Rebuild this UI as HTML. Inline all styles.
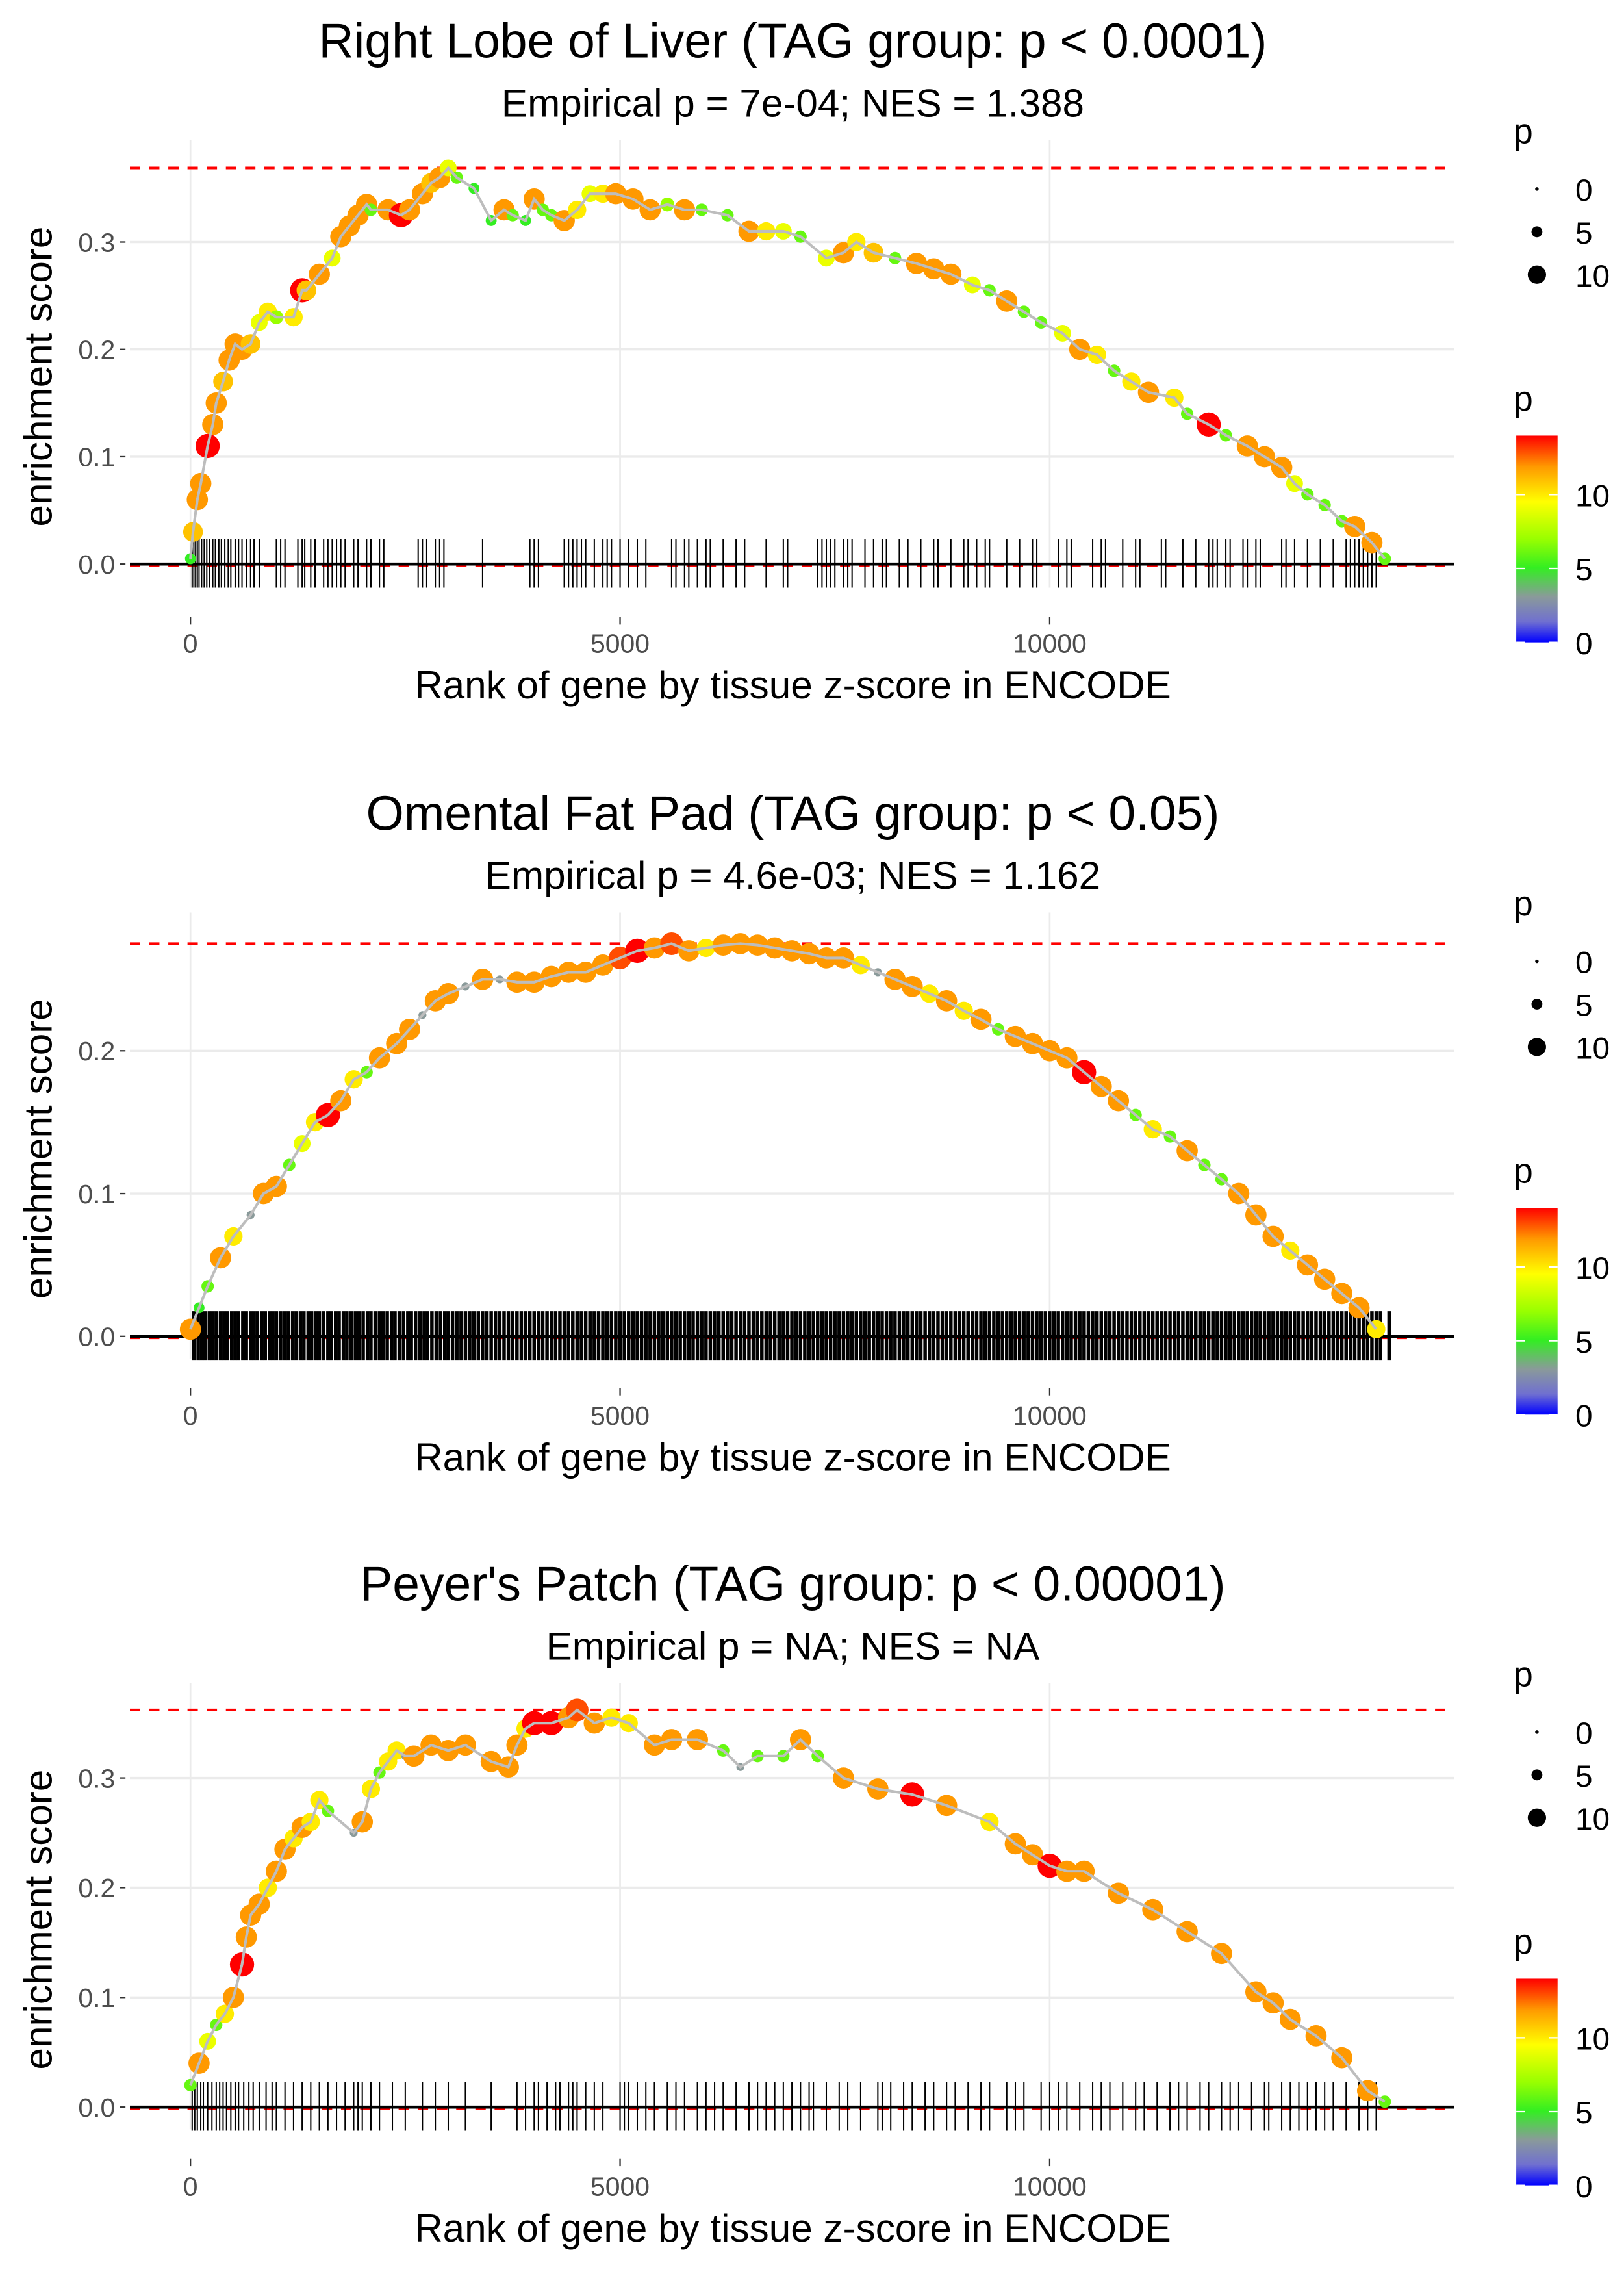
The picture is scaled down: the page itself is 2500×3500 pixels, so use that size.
<!DOCTYPE html>
<html><head><meta charset="utf-8"><style>
html,body{margin:0;padding:0;background:#fff}
svg{display:block}
text{font-family:"Liberation Sans",sans-serif}
</style></head><body>
<svg id="chart" width="2500" height="3500" viewBox="0 0 1100 1540" xmlns="http://www.w3.org/2000/svg">
<defs>
<linearGradient id="pgrad" x1="0" y1="1" x2="0" y2="0">
<stop offset="0" stop-color="#0000ff"/><stop offset="0.1" stop-color="#7070d0"/><stop offset="0.22" stop-color="#8a9a9a"/><stop offset="0.36" stop-color="#33ee22"/><stop offset="0.5" stop-color="#99ff00"/><stop offset="0.68" stop-color="#ffff00"/><stop offset="0.85" stop-color="#ff9900"/><stop offset="1" stop-color="#ff0000"/>
</linearGradient>
</defs>
</svg>
<script>
// Panel 1 data
const p1Titles=["Right Lobe of Liver (TAG group: p < 0.0001)","Empirical p = 7e-04; NES = 1.388"];
const p1Rank=[0,30,80,120,200,260,300,380,450,520,600,700,800,900,1000,1200,1300,1350,1500,1650,1750,1850,1950,2050,2100,2300,2450,2550,2700,2800,2900,3000,3100,3300,3500,3650,3750,3900,4000,4100,4200,4350,4500,4650,4800,4950,5150,5350,5550,5750,5950,6250,6500,6700,6900,7100,7400,7600,7750,7950,8200,8450,8650,8850,9100,9300,9500,9700,9900,10150,10350,10550,10750,10950,11150,11450,11600,11850,12050,12300,12500,12700,12850,13000,13200,13400,13550,13750,13900];
const p1ES=[0.005,0.03,0.06,0.075,0.11,0.13,0.15,0.17,0.19,0.205,0.2,0.205,0.225,0.235,0.23,0.23,0.255,0.255,0.27,0.285,0.305,0.315,0.325,0.335,0.33,0.33,0.325,0.33,0.345,0.355,0.36,0.369,0.36,0.35,0.32,0.33,0.325,0.32,0.34,0.33,0.325,0.32,0.33,0.345,0.345,0.345,0.34,0.33,0.335,0.33,0.33,0.325,0.31,0.31,0.31,0.305,0.285,0.29,0.3,0.29,0.285,0.28,0.275,0.27,0.26,0.255,0.245,0.235,0.225,0.215,0.2,0.195,0.18,0.17,0.16,0.155,0.14,0.13,0.12,0.11,0.1,0.09,0.075,0.065,0.055,0.04,0.035,0.02,0.005];
const p1P=[5,11,12,12,14,12,12,11,12,12,12,11,9,10,7,10,14,11,12,9,12,12,12,12,6,12,14,12,12,11,12,9,6,5,5,12,6,5,12,6,6,12,10,9,10,12,12,12,7,12,6,6,12,10,9,6,9,12,10,11,6,12,12,12,9,6,12,6,6,9,12,10,6,10,12,10,6,14,6,12,12,12,9,6,6,6,12,12,6];
const p1Rug=[20,40,60,80,100,130,160,190,220,260,290,330,360,400,440,470,520,560,600,650,700,740,800,1000,1050,1100,1250,1300,1330,1400,1450,1550,1600,1650,1700,1750,1800,1900,1950,2050,2100,2200,2250,2650,2700,2750,2850,2900,2950,3400,3950,4000,4050,4350,4400,4450,4500,4550,4600,4700,4800,4850,4900,5000,5100,5200,5300,5600,5650,5750,5800,5900,6000,6050,6200,6350,6450,6700,6900,6950,7300,7350,7400,7450,7500,7600,7650,7700,7850,7950,8050,8100,8250,8350,8500,8650,8700,8850,9000,9050,9150,9250,9300,9500,9650,9800,9850,10100,10200,10250,10500,10600,10650,10850,11000,11050,11300,11350,11550,11700,11850,11900,11950,12050,12100,12250,12300,12400,12450,12700,12750,12850,13000,13150,13300,13450,13500,13550,13600,13650,13700,13750,13800];

// Panel 2 data
const p2Titles=["Omental Fat Pad (TAG group: p < 0.05)","Empirical p = 4.6e-03; NES = 1.162"];
const p2Rank=[0,100,200,350,500,700,850,1000,1150,1300,1450,1600,1750,1900,2050,2200,2400,2550,2700,2850,3000,3200,3400,3600,3800,4000,4200,4400,4600,4800,5000,5200,5400,5600,5800,6000,6200,6400,6600,6800,7000,7200,7400,7600,7800,8000,8200,8400,8600,8800,9000,9200,9400,9600,9800,10000,10200,10400,10600,10800,11000,11200,11400,11600,11800,12000,12200,12400,12600,12800,13000,13200,13400,13600,13800];
const p2ES=[0.005,0.02,0.035,0.055,0.07,0.085,0.1,0.105,0.12,0.135,0.15,0.155,0.165,0.18,0.185,0.195,0.205,0.215,0.225,0.235,0.24,0.245,0.25,0.25,0.248,0.248,0.252,0.255,0.255,0.26,0.265,0.27,0.272,0.275,0.27,0.272,0.274,0.275,0.274,0.272,0.27,0.268,0.265,0.265,0.26,0.255,0.25,0.245,0.24,0.235,0.228,0.222,0.215,0.21,0.205,0.2,0.195,0.185,0.175,0.165,0.155,0.145,0.14,0.13,0.12,0.11,0.1,0.085,0.07,0.06,0.05,0.04,0.03,0.02,0.005];
const p2P=[12,5,6,12,10,3,12,12,6,9,10,14,12,10,6,12,12,12,3,12,12,3,12,3,12,12,12,12,12,12,13,14,12,13,12,10,12,12,12,12,12,12,12,12,10,3,12,12,10,12,10,12,6,12,12,12,12,14,12,12,6,10,6,12,6,6,12,12,12,10,12,12,12,12,10];
const p2Rug=[40,90,130,170,220,260,300,350,390,430,480,520,560,610,650,700,740,780,830,870,920,960,1000,1050,1100,1140,1190,1230,1280,1320,1370,1410,1460,1500,1550,1600,1640,1690,1730,1780,1820,1870,1920,1960,2010,2060,2100,2150,2200,2240,2290,2340,2380,2430,2480,2530,2570,2620,2670,2720,2760,2810,2860,2910,2960,3000,3050,3100,3150,3200,3250,3300,3350,3400,3450,3500,3550,3600,3650,3700,3750,3800,3850,3900,3950,4000,4050,4100,4150,4200,4250,4300,4350,4400,4450,4500,4550,4600,4650,4700,4750,4800,4850,4900,4950,5000,5050,5100,5150,5200,5250,5300,5350,5400,5450,5500,5550,5600,5650,5700,5750,5800,5850,5900,5950,6000,6050,6100,6150,6200,6250,6300,6350,6400,6450,6500,6550,6600,6650,6700,6750,6800,6850,6900,6950,7000,7050,7100,7150,7200,7250,7300,7350,7400,7450,7500,7550,7600,7650,7700,7750,7800,7850,7900,7950,8000,8050,8100,8150,8200,8250,8300,8350,8400,8450,8500,8550,8600,8650,8700,8750,8800,8850,8900,8950,9000,9050,9100,9150,9200,9250,9300,9350,9400,9450,9500,9550,9600,9650,9700,9750,9800,9850,9900,9950,10000,10050,10100,10150,10200,10250,10300,10350,10400,10450,10500,10550,10600,10650,10700,10750,10800,10850,10900,10950,11000,11050,11100,11150,11200,11250,11300,11350,11400,11450,11500,11550,11600,11650,11700,11750,11800,11850,11900,11950,12000,12050,12100,12150,12200,12250,12300,12350,12400,12450,12500,12550,12600,12650,12700,12750,12800,12850,12900,12950,13000,13050,13100,13150,13200,13250,13300,13350,13400,13450,13500,13550,13600,13650,13700,13750,13800,13850,13950];

// Panel 3 data
const p3Titles=["Peyer's Patch (TAG group: p < 0.00001)","Empirical p = NA; NES = NA"];
const p3Rank=[0,100,200,300,400,500,600,650,700,800,900,1000,1100,1200,1300,1400,1500,1600,1900,2000,2100,2200,2300,2400,2500,2600,2800,3000,3200,3500,3700,3800,3900,4000,4200,4400,4500,4700,4900,5100,5400,5600,5900,6200,6400,6600,6900,7100,7300,7600,8000,8400,8800,9300,9600,9800,10000,10200,10400,10800,11200,11600,12000,12400,12600,12800,13100,13400,13700,13900];
const p3ES=[0.02,0.04,0.06,0.075,0.085,0.1,0.13,0.155,0.175,0.185,0.2,0.215,0.235,0.245,0.255,0.26,0.28,0.27,0.25,0.26,0.29,0.305,0.315,0.325,0.32,0.32,0.33,0.325,0.33,0.315,0.31,0.33,0.345,0.35,0.35,0.355,0.362,0.35,0.355,0.35,0.33,0.335,0.335,0.325,0.31,0.32,0.32,0.335,0.32,0.3,0.29,0.285,0.275,0.26,0.24,0.23,0.22,0.215,0.215,0.195,0.18,0.16,0.14,0.105,0.095,0.08,0.065,0.045,0.015,0.005];
const p3P=[6,12,9,6,10,12,14,12,12,12,10,12,12,10,12,10,10,6,3,12,10,6,10,10,3,12,12,12,12,12,12,12,10,14,14,12,13,12,10,10,12,12,12,6,3,6,6,12,6,12,12,14,12,10,12,12,14,12,12,12,12,12,12,12,12,12,12,12,12,6];
const p3Rug=[20,50,80,120,150,200,250,300,340,380,420,470,520,560,620,680,730,800,880,950,1000,1100,1200,1300,1400,1500,1600,1700,1800,1900,1950,2000,2100,2200,2350,2500,2700,2850,3000,3200,3500,3800,3900,4000,4050,4150,4250,4300,4400,4450,4500,4600,4700,4800,5000,5050,5100,5200,5300,5400,5550,5650,5750,5900,6000,6100,6200,6350,6500,6600,6700,6800,6900,7000,7100,7200,7250,7400,7550,7650,7800,8000,8050,8150,8300,8400,8550,8650,8800,8900,9050,9200,9300,9500,9600,9700,9900,10000,10100,10200,10350,10500,10600,10700,10850,11000,11100,11250,11400,11500,11600,11750,11850,12000,12100,12200,12350,12500,12550,12700,12800,12900,13000,13100,13200,13300,13450,13600,13700,13800];

const yTicks=[0,0.1,0.2,0.3];
const yTickLabels=["0.0","0.1","0.2","0.3"];
const xTicks=[0,5000,10000];
const xTickLabels=["0","5000","10000"];
const legendSizes=[0,5,10];
const legendColorTicks=[0,5,10];

const NS="http://www.w3.org/2000/svg";
const svg=document.getElementById('chart');
function mk(tag,attrs,parent){const e=document.createElementNS(NS,tag);for(const k in attrs)e.setAttribute(k,attrs[k]);(parent||svg).appendChild(e);return e;}
function colorOf(p){
  const st=[[0,[0,0,255]],[1.4,[112,112,208]],[3,[138,154,154]],[5,[51,238,34]],[7,[153,255,0]],[9.5,[255,255,0]],[12,[255,153,0]],[14,[255,0,0]]];
  if(p<=0)return 'rgb(0,0,255)';
  for(let i=1;i<st.length;i++){if(p<=st[i][0]){const t=(p-st[i-1][0])/(st[i][0]-st[i-1][0]);const c=st[i-1][1].map((v,j)=>Math.round(v+(st[i][1][j]-v)*t));return 'rgb('+c+')';}}
  return 'rgb(255,0,0)';
}
function rad(p){return 1.2+p*0.5;}

const panels=[
 {titles:p1Titles,rank:p1Rank,es:p1ES,p:p1P,rug:p1Rug,y0:382,pxPer:727,top:95,bot:398,off:0},
 {titles:p2Titles,rank:p2Rank,es:p2ES,p:p2P,rug:p2Rug,y0:905,pxPer:967,top:618,bot:920,off:523},
 {titles:p3Titles,rank:p3Rank,es:p3ES,p:p3P,rug:p3Rug,y0:1427,pxPer:743,top:1140,bot:1442,off:1045}
];
const X0=129,XS=(711-129)/10000,L=88,R=985;
function xs(v){return X0+v*XS;}

panels.forEach((P,i)=>{
  const g=mk('g',{});
  
  
  const ys=v=>P.y0-v*P.pxPer;
  const t=mk('text',{x:537,y:P.off+39,'text-anchor':'middle','font-size':33,fill:'#000'},g);t.textContent=P.titles[0];
  
  const s=mk('text',{x:537,y:P.off+79,'text-anchor':'middle','font-size':26.5,fill:'#000'},g);s.textContent=P.titles[1];
  
  // grid
  xTicks.forEach(v=>{const l=mk('line',{x1:xs(v),x2:xs(v),y1:P.top,y2:P.bot,stroke:'#ebebeb','stroke-width':1.2},g);});
  yTicks.forEach((v,k)=>{
    if(ys(v)<P.top) return;
    const l=mk('line',{x1:L,x2:R,y1:ys(v),y2:ys(v),stroke:'#ebebeb','stroke-width':1.5},g);
    
    mk('line',{x1:81,x2:85,y1:ys(v),y2:ys(v),stroke:'#333','stroke-width':1},g);
    const tl=mk('text',{x:78,y:ys(v)+6.5,'text-anchor':'end','font-size':18,fill:'#4d4d4d'},g);tl.textContent=yTickLabels[k];
    
  });
  xTicks.forEach((v,k)=>{
    mk('line',{x1:xs(v),x2:xs(v),y1:P.bot+20,y2:P.bot+25,stroke:'#333','stroke-width':1},g);
    const tl=mk('text',{x:xs(v),y:P.y0+60,'text-anchor':'middle','font-size':18,fill:'#4d4d4d'},g);tl.textContent=xTickLabels[k];
    
  });
  const yt=mk('text',{x:0,y:0,transform:'translate(35,'+(P.y0-127)+') rotate(-90)','text-anchor':'middle','font-size':26.5,fill:'#000'},g);yt.textContent='enrichment score';
  
  const xt=mk('text',{x:537,y:P.y0+91,'text-anchor':'middle','font-size':26.5,fill:'#000'},g);xt.textContent='Rank of gene by tissue z-score in ENCODE';
  
  // red dashed lines
  const mx=Math.max(...P.es);
  const rd=mk('line',{x1:L,x2:R,y1:ys(mx),y2:ys(mx),stroke:'#ff0000','stroke-width':1.8,'stroke-dasharray':'7,6'},g);
  
  mk('line',{x1:L,x2:R,y1:ys(0)+1,y2:ys(0)+1,stroke:'#ff0000','stroke-width':1.8,'stroke-dasharray':'7,6'},g);
  // rug
  P.rug.forEach(r=>{const l=mk('line',{x1:xs(r),x2:xs(r),y1:P.y0-17,y2:P.y0+16,stroke:'#000','stroke-width':i==1?2.4:0.9},g);
    });
  const zl=mk('line',{x1:L,x2:R,y1:ys(0),y2:ys(0),stroke:'#000','stroke-width':2},g);
  
  // points
  P.rank.forEach((r,k)=>{const c=mk('circle',{cx:xs(r),cy:ys(P.es[k]),r:rad(P.p[k]),fill:colorOf(P.p[k])},g);
    });
  const line=mk('polyline',{points:P.rank.map((r,k)=>xs(r)+','+ys(P.es[k])).join(' '),fill:'none',stroke:'#bdbdbd','stroke-width':1.8},g);
  
  // legends
  const lg=mk('g',{},g);
  
  const lt=mk('text',{x:1025,y:P.off+97,'font-size':24,fill:'#000'},lg);lt.textContent='p';
  legendSizes.forEach((v,k)=>{mk('circle',{cx:1041,cy:P.off+128+k*29,r:rad(v)},lg);
    const tt=mk('text',{x:1067,y:P.off+136+k*29,'font-size':21,fill:'#000'},lg);tt.textContent=String(v);});
  const cg=mk('g',{},g);
  
  const ct=mk('text',{x:1025,y:P.off+278,'font-size':24,fill:'#000'},cg);ct.textContent='p';
  const top=P.off+295,h=140;
  mk('rect',{x:1027,y:top,width:28,height:h,fill:'url(#pgrad)'},cg);
  legendColorTicks.forEach(v=>{const yy=top+h-v/14*h;
    mk('line',{x1:1027,x2:1033,y1:yy,y2:yy,stroke:'#fff','stroke-width':1},cg);
    mk('line',{x1:1049,x2:1055,y1:yy,y2:yy,stroke:'#fff','stroke-width':1},cg);
    const tt=mk('text',{x:1067,y:yy+8,'font-size':21,fill:'#000'},cg);tt.textContent=String(v);});
});
</script>
</body></html>
